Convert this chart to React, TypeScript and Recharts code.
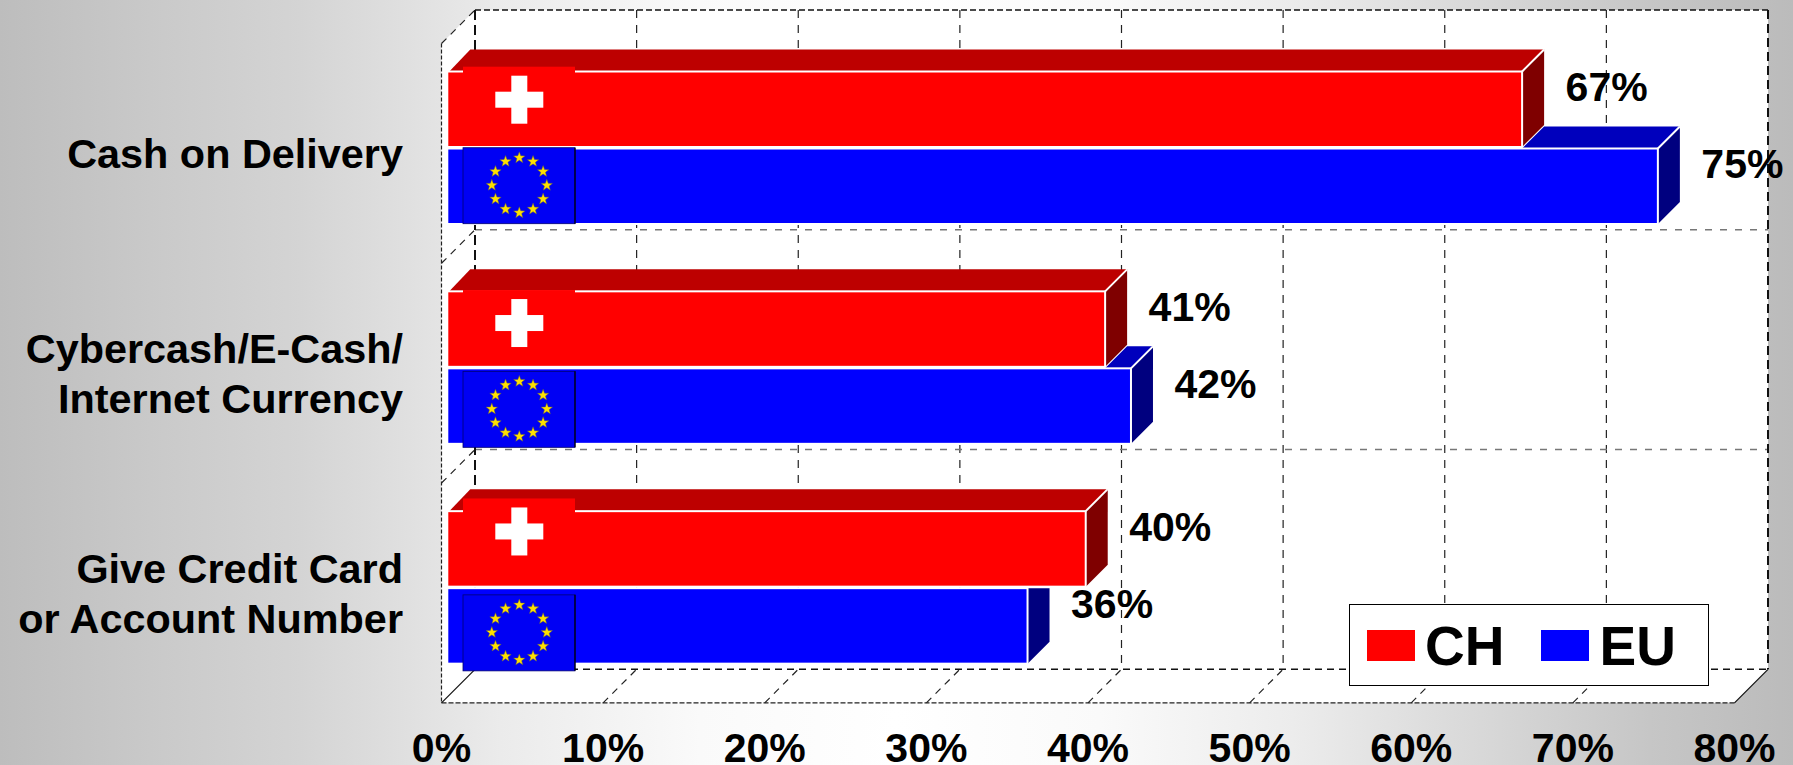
import React from 'react'
import { BarChart, Bar, XAxis, YAxis, LabelList, Legend, usePlotArea } from 'recharts'

const categories = ['Cash on Delivery', 'Cybercash/E-Cash/\nInternet Currency', 'Give Credit Card\nor Account Number']
const chValues = [66.5, 40.7, 39.5]
const euValues = [74.9, 42.3, 35.9]
const chLabels = ['67%', '41%', '40%']
const euLabels = ['75%', '42%', '36%']
const xTicks = [0, 10, 20, 30, 40, 50, 60, 70, 80]
const wallLines = [1, 2]

const data = categories.map((name, i) => ({
  name,
  ch: chValues[i],
  eu: euValues[i],
  chLabel: chLabels[i],
  euLabel: euLabels[i],
}))

const WIDTH = 1793
const HEIGHT = 765
const FONT = '"Liberation Sans", Arial, sans-serif'
const BACKGROUND =
  'linear-gradient(90deg, #bdbdbd 0px, #c9c9c9 150px, #d4d4d4 300px, #dfdfdf 400px, #ebebeb 500px, #fafafa 700px, #ffffff 896px, #fafafa 1100px, #ececec 1293px, #d6d6d6 1500px, #c6c6c6 1650px, #bbbbbb 1793px)'

// 3D look: the bars sit between a front and a back plane of the box
const FRONT = 5.8
const BACK = 27.7
const BAR_DEPTH = 22

// the flags were pasted on by hand so they do not line up the same in each group
const chFlagTop = [-4.8, -1.3, -12.7]
const chCrossY = [28.2, 31.7, 20.3]
const euFlagTop = [-0.8, 3, 6.7]

function Frame() {
  const plot = usePlotArea()
  if (!plot) return null
  const { x, y, width, height } = plot
  const left = x - FRONT
  const right = x + width - FRONT
  const bottom = y + height + FRONT
  const backLeft = x + BACK
  const backRight = x + width + BACK
  const backTop = 10
  const backBottom = y + height - BACK
  const frontTop = backTop + BACK + FRONT
  const bandH = (backBottom - backTop) / 3

  return (
    <g>
      <polygon
        points={`${left},${bottom} ${left},${frontTop} ${backLeft},${backTop} ${backRight},${backTop} ${backRight},${backBottom} ${right},${bottom}`}
        fill="#fff"
      />
      {xTicks.slice(1, -1).map((t) => {
        const px = (t / 80) * width
        return (
          <g key={t}>
            <line x1={backLeft + px} x2={backLeft + px} y1={backTop} y2={backBottom} stroke="#222" strokeWidth={1.2} strokeDasharray="8 7" />
            <line x1={left + px} x2={backLeft + px} y1={bottom} y2={backBottom} stroke="#222" strokeWidth={1.2} strokeDasharray="7 6" />
          </g>
        )
      })}
      {wallLines.map((n) => {
        const ly = backTop + n * bandH
        return (
          <g key={n}>
            <line x1={backLeft} x2={backRight} y1={ly} y2={ly} stroke="#777" strokeWidth={1.5} strokeDasharray="7 8" />
            <line x1={left} x2={backLeft} y1={ly + BACK + FRONT} y2={ly} stroke="#222" strokeWidth={1.2} strokeDasharray="7 6" />
          </g>
        )
      })}
      <line x1={left} x2={backLeft} y1={frontTop} y2={backTop} stroke="#222" strokeWidth={1.2} strokeDasharray="7 6" />
      <line x1={backLeft} x2={backRight} y1={backTop} y2={backTop} stroke="#111" strokeWidth={1.5} strokeDasharray="6 3" />
      <line x1={backLeft} x2={backRight} y1={backBottom} y2={backBottom} stroke="#111" strokeWidth={1.5} strokeDasharray="7 5" />
      <line x1={backLeft} x2={backLeft} y1={backTop} y2={backBottom} stroke="#111" strokeWidth={2} strokeDasharray="10 5" />
      <line x1={backRight} x2={backRight} y1={backTop} y2={backBottom} stroke="#111" strokeWidth={2} strokeDasharray="9 5" />
      <line x1={left} x2={left} y1={frontTop} y2={bottom} stroke="#222" strokeWidth={1.2} strokeDasharray="4 2" />
      <line x1={left} x2={right} y1={bottom} y2={bottom} stroke="#222" strokeWidth={1.2} strokeDasharray="5 2" />
      <line x1={left} x2={backLeft} y1={bottom} y2={backBottom} stroke="#111" strokeWidth={1.2} />
      <line x1={right} x2={backRight} y1={bottom} y2={backBottom} stroke="#111" strokeWidth={1.2} />
    </g>
  )
}

function star(cx: number, cy: number, r: number) {
  const pts: string[] = []
  for (let i = 0; i < 10; i++) {
    const a = (Math.PI / 5) * i - Math.PI / 2
    const rr = i % 2 === 0 ? r : r * 0.42
    pts.push(`${cx + rr * Math.cos(a)},${cy + rr * Math.sin(a)}`)
  }
  return pts.join(' ')
}

function ChBar(props: any) {
  const { x, y, width, height, index } = props
  const d = BAR_DEPTH
  const end = x + width
  const flagX = x + 15.7
  const cx = flagX + 56.3
  const cy = y + chCrossY[index]
  return (
    <g>
      <polygon points={`${x + 2},${y} ${x + d + 1},${y - d} ${end + d},${y - d} ${end},${y}`} fill="#bd0000" />
      <polygon points={`${end},${y} ${end + d},${y - d} ${end + d},${y + height - d} ${end},${y + height}`} fill="#7f0000" />
      <line x1={end} y1={y} x2={end + d} y2={y - d} stroke="#fff" strokeWidth={2} />
      <rect x={x} y={y} width={width} height={height} fill="#ff0000" stroke="#fff" strokeWidth={2} />
      <rect x={flagX} y={y + chFlagTop[index]} width={112} height={60} fill="#ff0000" />
      <rect x={cx - 24} y={cy - 8} width={48} height={16} fill="#fff" />
      <rect x={cx - 8} y={cy - 24} width={16} height={48} fill="#fff" />
    </g>
  )
}

function EuBar(props: any) {
  const { x, y, width, height, index, payload } = props
  const d = BAR_DEPTH
  const end = x + width
  // the red bar above hides whatever part of the blue box is behind it
  const chEnd = x + width * (payload.ch / payload.eu)
  const flagX = x + 15.7
  const flagY = y + euFlagTop[index]
  const cx = flagX + 56.3
  const cy = flagY + 37.6
  const overRed = chEnd < end
  return (
    <g>
      {overRed && (
        <polygon points={`${chEnd},${y} ${chEnd + d},${y - d} ${end + d},${y - d} ${end},${y}`} fill="#0000bd" />
      )}
      <polygon
        points={
          overRed
            ? `${end},${y} ${end + d},${y - d} ${end + d},${y + height - d} ${end},${y + height}`
            : `${end},${y} ${end + d},${y} ${end + d},${y + height - d} ${end},${y + height}`
        }
        fill="#00007f"
      />
      {overRed && <line x1={end} y1={y} x2={end + d} y2={y - d} stroke="#fff" strokeWidth={2} />}
      <rect x={x} y={y} width={width} height={height} fill="#0000ff" stroke="#fff" strokeWidth={2} />
      <rect x={flagX} y={flagY} width={112} height={76} fill="#0000f4" stroke="#000070" strokeWidth={0.8} />
      <line x1={flagX + 112} x2={flagX + 112} y1={flagY} y2={flagY + 76} stroke="#000" strokeWidth={1.2} />
      {Array.from({ length: 12 }).map((_, i) => {
        const a = (Math.PI / 6) * i
        return (
          <polygon
            key={i}
            points={star(cx + 27.5 * Math.sin(a), cy - 27.5 * Math.cos(a), 6)}
            fill="#ffe000"
            stroke="#555"
            strokeWidth={0.5}
          />
        )
      })}
    </g>
  )
}

function ValueLabel(props: any) {
  const { x, y, width, height, value } = props
  return (
    <text x={x + width + 43.5} y={y + height / 2 - 8} fontFamily={FONT} fontSize={41} fontWeight="bold" fill="#000">
      {value}
    </text>
  )
}

function CategoryTick(props: any) {
  const { y, payload } = props
  const lines = String(payload.value).split('\n')
  const firstY = y + 21 - ((lines.length - 1) * 50) / 2
  return (
    <text textAnchor="end" fontFamily={FONT} fontSize={41.4} fontWeight="bold" fill="#000">
      {lines.map((line, i) => (
        <tspan key={i} x={403} y={firstY + i * 50}>
          {line}
        </tspan>
      ))}
    </text>
  )
}

function PercentTick(props: any) {
  const { x, payload } = props
  return (
    <text x={x - FRONT} y={762} textAnchor="middle" fontFamily={FONT} fontSize={41} fontWeight="bold" fill="#000">
      {payload.value}%
    </text>
  )
}

function LegendBox(props: any) {
  const items = props.payload || []
  return (
    <div
      style={{
        boxSizing: 'border-box',
        width: 360,
        height: 82,
        background: '#fff',
        border: '1.5px solid #000',
        position: 'relative',
        fontFamily: FONT,
        fontWeight: 'bold',
        fontSize: 55,
      }}
    >
      {items.map((item: any, i: number) => (
        <React.Fragment key={item.value}>
          <div
            style={{
              position: 'absolute',
              left: 17 + i * 174,
              top: 25,
              width: 48,
              height: 31,
              background: item.color,
            }}
          />
          <div style={{ position: 'absolute', left: 75 + i * 174.5, top: 9, lineHeight: '64px', color: '#000' }}>
            {item.value}
          </div>
        </React.Fragment>
      ))}
    </div>
  )
}

export default function App() {
  return (
    <div
      style={{
        position: 'absolute',
        left: 0,
        top: 0,
        width: WIDTH,
        height: HEIGHT,
        overflow: 'hidden',
        background: BACKGROUND,
      }}
    >
      <BarChart
        width={WIDTH}
        height={HEIGHT}
        data={data}
        layout="vertical"
        margin={{ top: 37.5, right: 52.7, bottom: 0, left: 0 }}
        barSize={75.5}
        barGap={1.5}
      >
        <Frame />
        <XAxis
          type="number"
          domain={[0, 80]}
          ticks={xTicks}
          axisLine={false}
          tickLine={false}
          height={68}
          tick={<PercentTick />}
          interval={0}
        />
        <YAxis
          type="category"
          dataKey="name"
          width={447.3}
          axisLine={false}
          tickLine={false}
          tick={<CategoryTick />}
          interval={0}
        />
        <Legend
          layout="horizontal"
          align="center"
          verticalAlign="middle"
          content={<LegendBox />}
          wrapperStyle={{ left: 1349, top: 604, width: 360, height: 82 }}
        />
        <Bar dataKey="ch" name="CH" fill="#ff0000" shape={<ChBar />} isAnimationActive={false}>
          <LabelList dataKey="chLabel" content={<ValueLabel />} />
        </Bar>
        <Bar dataKey="eu" name="EU" fill="#0000ff" shape={<EuBar />} isAnimationActive={false}>
          <LabelList dataKey="euLabel" content={<ValueLabel />} />
        </Bar>
      </BarChart>
    </div>
  )
}
